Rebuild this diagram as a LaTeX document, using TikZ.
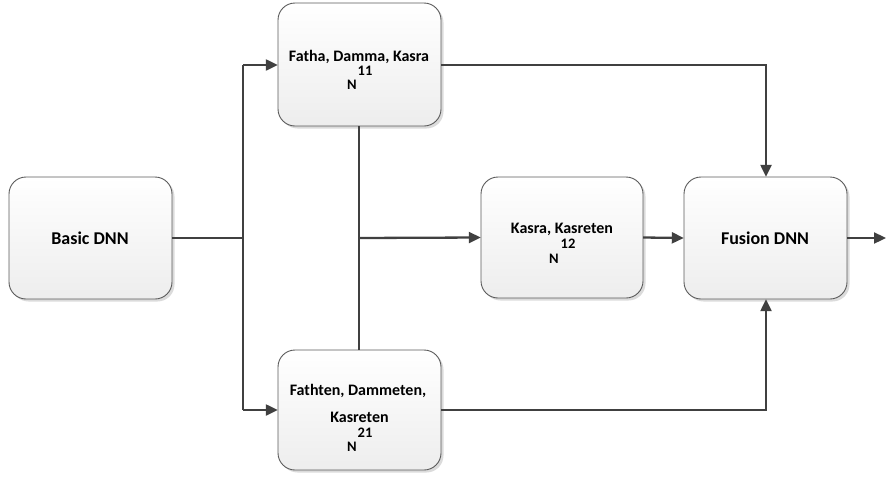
\documentclass[tikz,border=0pt]{standalone}
\usepackage{fontspec}
\setmainfont{Carlito}
\usetikzlibrary{arrows.meta,shadows}
\definecolor{lineclr}{HTML}{404040}
\definecolor{boxborder}{HTML}{5A5A5A}
\tikzset{
  box/.style={draw=boxborder, line width=0.9pt, rounded corners=17pt,
    top color=white, bottom color=gray!14,
    drop shadow={shadow xshift=2.5pt, shadow yshift=-2.5pt, fill=gray!35, opacity=0.8}},
  conn/.style={draw=lineclr, line width=2.3pt},
  arr/.style={conn, -{Triangle[length=12pt,width=11pt]}},
  bigtxt/.style={font=\fontsize{18}{20}\selectfont\bfseries, anchor=base, inner sep=0pt},
  midtxt/.style={font=\fontsize{16}{18}\selectfont\bfseries, anchor=base, inner sep=0pt},
  smalltxt/.style={font=\fontsize{14.5}{17}\selectfont\bfseries, anchor=base, inner sep=0pt},
}
\begin{document}
\begin{tikzpicture}[x=1pt,y=-1pt]
\useasboundingbox (0,0) rectangle (887,477);
% boxes
\path[box] (9,177) rectangle (172,299);
\path[box] (278,3) rectangle (441,126);
\path[box] (278,350) rectangle (441,470);
\path[box] (481,177) rectangle (643,298);
\path[box] (684,177) rectangle (847,299);
% anchor nodes
\node[inner sep=0pt, minimum width=163pt, minimum height=122pt] (basic) at (90.5,238) {};
\node[inner sep=0pt, minimum width=163pt, minimum height=123pt] (top) at (359.5,64.5) {};
\node[inner sep=0pt, minimum width=163pt, minimum height=120pt] (bot) at (359.5,410) {};
\node[inner sep=0pt, minimum width=162pt, minimum height=121pt] (mid) at (562,237.5) {};
\node[inner sep=0pt, minimum width=163pt, minimum height=122pt] (fus) at (765.5,238) {};
% texts
\node[bigtxt] (tb) at (90,244) {Basic DNN};
\node[bigtxt] (tf) at (765,244) {Fusion DNN};
\node[midtxt] (t1a) at (359,61) {Fatha, Damma, Kasra};
\node[smalltxt] (t1b) at (365,75) {11};
\node[smalltxt] (t1c) at (352,89.5) {N};
\node[midtxt] (t2a) at (562,233) {Kasra, Kasreten};
\node[smalltxt] (t2b) at (568,248) {12};
\node[smalltxt] (t2c) at (554,263) {N};
\node[midtxt] (t3a) at (358,395) {Fathten, Dammeten,};
\node[midtxt] (t3b) at (359.5,422) {Kasreten};
\node[smalltxt] (t3c) at (365,437) {21};
\node[smalltxt] (t3d) at (352,451) {N};
% coordinates
\coordinate (split) at (243,238);
\coordinate (splitT) at (243,65);
\coordinate (splitB) at (243,410);
\coordinate (br) at (359,238);
\coordinate (cornerT) at (766,65);
\coordinate (cornerB) at (766,410);
\coordinate (out) at (886,238);
% connectors
\draw[conn] (basic.east) -- (split);
\draw[conn] (splitT) -- (splitB);
\draw[arr] (splitT) -- (top.west |- splitT);
\draw[arr] (splitB) -- (bot.west |- splitB);
\draw[conn] (top.south -| br) -- (bot.north -| br);
\draw[arr] (br) -- (mid.west);
\draw[arr] (mid.east) -- (fus.west);
\draw[arr] (top.east |- cornerT) -- (cornerT) -- (fus.north -| cornerT);
\draw[arr] (bot.east |- cornerB) -- (cornerB) -- (fus.south -| cornerB);
\draw[arr] (fus.east) -- (out);
\end{tikzpicture}
\end{document}
